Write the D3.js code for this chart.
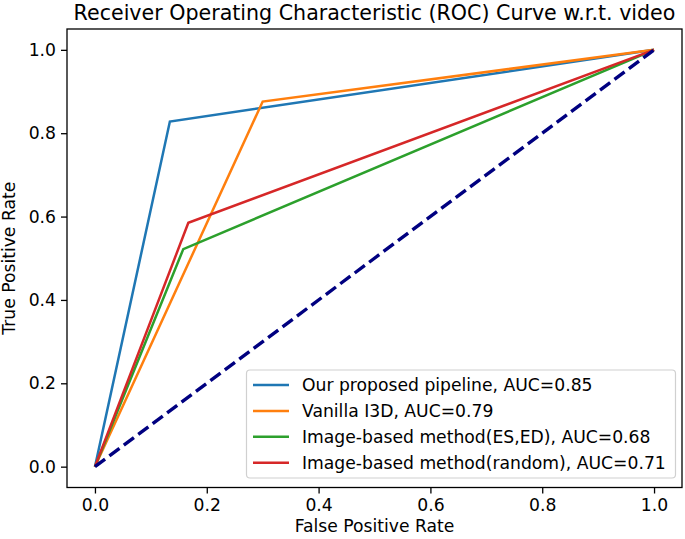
<!DOCTYPE html>
<html>
<head>
<meta charset="utf-8">
<script src="https://cdn.jsdelivr.net/npm/d3@7"></script>
<style>
  html, body { margin: 0; padding: 0; background: #fff; }
  text { font-family: "DejaVu Sans", sans-serif; fill: #000; }
</style>
</head>
<body>
<svg id="chart" width="685" height="539"></svg>
<script>
// ---- data ----
const seriesNames = [
  "Our proposed pipeline, AUC=0.85",
  "Vanilla I3D, AUC=0.79",
  "Image-based method(ES,ED), AUC=0.68",
  "Image-based method(random), AUC=0.71"
];
const fprPipeline = [0, 0.134, 1];
const tprPipeline = [0, 0.828, 1];
const fprI3D = [0, 0.300, 1];
const tprI3D = [0, 0.876, 1];
const fprESED = [0, 0.158, 1];
const tprESED = [0, 0.522, 1];
const fprRandom = [0, 0.167, 1];
const tprRandom = [0, 0.585, 1];
const chanceX = [0, 1];
const chanceY = [0, 1];
const xTicks = [0.0, 0.2, 0.4, 0.6, 0.8, 1.0];
const yTicks = [0.0, 0.2, 0.4, 0.6, 0.8, 1.0];
const colors = ["#1f77b4", "#ff7f0e", "#2ca02c", "#d62728"];

// ---- layout ----
const svg = d3.select("#chart");
const L = 67, R = 682, T = 29, B = 487.5;
const x = d3.scaleLinear().domain([-0.05, 1.05]).range([L, R]);
const y = d3.scaleLinear().domain([-0.05, 1.05]).range([B, T]);
const FS = 17.2;

const series = [
  {xs: fprPipeline, ys: tprPipeline},
  {xs: fprI3D, ys: tprI3D},
  {xs: fprESED, ys: tprESED},
  {xs: fprRandom, ys: tprRandom}
];
const line = d3.line().x(d => x(d[0])).y(d => y(d[1]));

const plot = svg.append("g");
series.forEach((s, i) => {
  plot.append("path")
    .attr("d", line(s.xs.map((v, j) => [v, s.ys[j]])))
    .attr("fill", "none").attr("stroke", colors[i])
    .attr("stroke-width", 2.5).attr("stroke-linejoin", "miter");
});
plot.append("path")
  .attr("d", line(chanceX.map((v, j) => [v, chanceY[j]])))
  .attr("fill", "none").attr("stroke", "navy")
  .attr("stroke-width", 3.4).attr("stroke-dasharray", "12.6,5.4");

// axes
const xAxis = d3.axisBottom(x).tickValues(xTicks).tickFormat(d3.format(".1f")).tickSize(6).tickPadding(5);
const yAxis = d3.axisLeft(y).tickValues(yTicks).tickFormat(d3.format(".1f")).tickSize(6).tickPadding(5);
const gx = svg.append("g").attr("transform", `translate(0,${B})`).call(xAxis);
const gy = svg.append("g").attr("transform", `translate(${L},0)`).call(yAxis);
[gx, gy].forEach(g => {
  g.select(".domain").remove();
  g.selectAll("line").attr("stroke", "#000").attr("stroke-width", 1.3);
  g.selectAll("text").attr("font-size", FS).attr("font-family", "DejaVu Sans").attr("fill", "#000");
});

// frame
svg.append("rect").attr("x", L).attr("y", T).attr("width", R - L).attr("height", B - T)
  .attr("fill", "none").attr("stroke", "#000").attr("stroke-width", 1.3);

// title & labels
svg.append("text").attr("x", (L + R) / 2).attr("y", 20).attr("text-anchor", "middle")
  .attr("font-size", 20.6).text("Receiver Operating Characteristic (ROC) Curve w.r.t. video");
svg.append("text").attr("x", (L + R) / 2).attr("y", 532).attr("text-anchor", "middle")
  .attr("font-size", FS).text("False Positive Rate");
svg.append("text").attr("transform", `translate(15,${(T + B) / 2}) rotate(-90)`)
  .attr("text-anchor", "middle").attr("font-size", FS).text("True Positive Rate");

// legend
const lg = svg.append("g");
lg.append("rect").attr("x", 246.5).attr("y", 370).attr("width", 429).attr("height", 108)
  .attr("rx", 3.5).attr("fill", "#fff").attr("fill-opacity", 0.8)
  .attr("stroke", "#d0d0d0").attr("stroke-width", 1.2);
seriesNames.forEach((name, i) => {
  const cy = 385 + i * 25.9;
  lg.append("line").attr("x1", 253).attr("x2", 289).attr("y1", cy).attr("y2", cy)
    .attr("stroke", colors[i]).attr("stroke-width", 2.5);
  lg.append("text").attr("x", 302).attr("y", cy + 6).attr("font-size", FS).text(name);
});
</script>
</body>
</html>
